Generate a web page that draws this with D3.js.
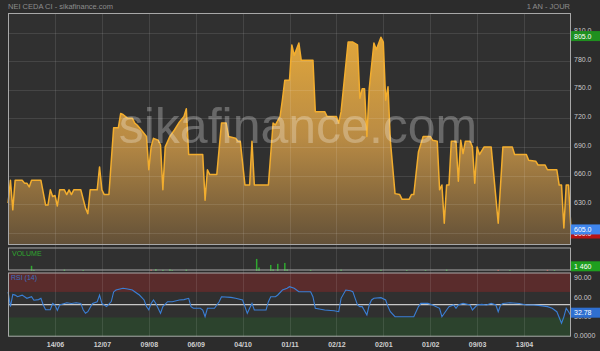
<!DOCTYPE html>
<html><head><meta charset="utf-8">
<script src="https://cdn.jsdelivr.net/npm/d3@7"></script>
<style>html,body{margin:0;padding:0;background:#2c2c2c;overflow:hidden}svg{display:block;font-family:"Liberation Sans",Arial,sans-serif}</style>
</head><body><svg id="c" width="600" height="351"></svg>
<script>
// ---- data (trading-day index / value) ----
const priceDays = [0,1,2,3,6,7,8,9,10,14,16,17,18,19,20,21,22,24,25,26,27,28,31,33,34,35,38,39,40,41,43,45,47,48,49,51,53,54,55,56,58,59,60,61,62,64,65,66,67,69,71,73,75,76,77,83,84,85,86,89,91,93,94,97,98,99,101,103,104,105,111,113,114,116,117,118,120,121,122,124,125,130,131,135,136,140,141,142,145,147,149,150,151,152,153,154,156,157,159,160,161,162,163,165,167,168,171,172,173,175,177,180,181,183,184,185,186,187,188,189,191,192,193,194,195,197,198,199,200,201,203,206,209,211,215,216,221,222,225,226,229,230,234,235,236,237,238,239,240];
const priceVals = [631,655,624,655,655,652,652,648,655,655,629,629,645,638,639,628,645,645,640,645,640,645,645,626,620,645,645,669,645,640,640,710,710,725,724,720,720,715,713,710,704,701,666,690,699,697,692,645,690,701,708,716,722,730,682,682,634,666,661,661,715,715,701,699,696,696,650,650,696,650,650,715,713,722,740,760,760,797,786,799,781,781,727,727,722,722,715,727,800,800,797,741,751,751,701,751,799,792,805,800,739,753,697,641,640,635,635,640,640,685,701,701,697,696,645,650,610,650,650,696,696,654,697,683,696,696,690,652,690,682,690,690,610,690,690,682,682,676,675,671,671,666,666,650,650,605,650,650,605];
const volDays = [10,11,24,32,61,63,66,69,70,76,106,107,112,113,115,118,119,129,142,159,170,178,187,209,214,230,233,240];
const volVals = [1800,400,500,300,500,700,400,600,300,500,4200,1200,2100,600,2500,2800,600,400,500,400,300,300,500,400,300,400,300,1460];
const volDownDays = [61,209,230];
const rsiDays = [0,1,2,3,4,6,8,10,11,13,14,15,16,18,19,20,21,22,25,27,29,31,32,33,34,36,38,39,40,41,42,44,45,46,49,51,53,54,56,58,59,60,61,62,63,65,66,68,70,73,75,77,78,79,82,83,84,85,88,90,91,95,97,100,101,102,103,104,105,110,111,112,114,115,117,119,120,122,123,124,129,130,131,135,139,141,142,144,146,147,148,149,150,151,153,154,155,156,159,161,162,163,165,173,175,176,179,181,184,185,187,188,190,191,192,194,197,198,200,202,204,206,208,209,210,211,214,218,221,224,227,230,232,234,236,237,238,239,240];
const rsiVals = [70,47,66,65,62.5,65,60,62.5,57,58,60,49.5,42,42,52,49.5,41,49.5,53,52,53,52,42,36.5,39,52,54.7,65,52,49.5,47,55,70,73,75.7,74.5,73,70.4,65.2,57.4,47,42,52,57.4,52,36.5,47,54.7,54.7,57.4,58,60,47,44.4,44.4,41.7,31.2,44.4,44.4,54.7,62.5,61.5,60,57.4,47,36.5,44.4,52,41.7,41.7,54.7,62.5,62.5,65.2,73,75.7,78.2,75.7,73,70.4,70.4,62.5,44.4,41.7,40.5,39,60,73,72,70.4,60,49.5,47,47,34,49.5,57.4,60,61,57.4,47,39,31.2,31.2,47,52,52,49.5,44.4,31.2,41.7,47,49.5,44.4,49.5,52,49.5,41.7,49.5,50.5,49.5,52,49.5,39,49.5,52,53,52,49.5,49.5,48.5,47,44.4,39,21,31,44.4,39,32.78];
const dateTickDays = [20,40,60,80,100,120,140,160,180,200,220];
const dateTickLabels = ["14/06","12/07","09/08","06/09","04/10","01/11","02/12","02/01","01/02","09/03","13/04"];
const priceTicks = [600,630,660,690,720,750,780,810];
const rsiTicks = [0,30,60,90];
const rsiTickLabels = ["0.0000","30.00","60.00","90.00"];
const highVal = 805, lastVal = 605, lowVal = 600, lastVol = 1460, lastRsi = 32.78;
const title = "NEI CEDA CI - sikafinance.com", period = "1 AN - JOUR", watermark = "sikafinance.com";

// ---- layout ----
const svg = d3.select('#c');
const L = 8, R = 571;
const main = {top: 13, bottom: 245}, vol = {top: 247.5, bottom: 270.5}, rp = {top: 272.5, bottom: 336.7};
const x = d3.scaleLinear().domain([0, 240]).range([8.1, 570.9]);
const yP = d3.scaleLinear().domain([600, 810]).range([232.7, 32.5]);
const yV = d3.scaleLinear().domain([0, 8000]).range([271, 248]);
const yR = d3.scaleLinear().domain([0, 100]).range([336.6, 272.8]);

svg.append('rect').attr('width', 600).attr('height', 351).attr('fill', '#2c2c2c');
[main, vol, rp].forEach(p => svg.append('rect').attr('x', L).attr('y', p.top).attr('width', R - L).attr('height', p.bottom - p.top).attr('fill', '#303030'));

// RSI bands
svg.append('rect').attr('x', L).attr('y', yR(100)).attr('width', R - L).attr('height', yR(70) - yR(100)).attr('fill', '#5a2c2c');
svg.append('rect').attr('x', L).attr('y', yR(30)).attr('width', R - L).attr('height', yR(0) - yR(30)).attr('fill', '#2c432d');

// gradient
const defs = svg.append('defs');
const g = defs.append('linearGradient').attr('id', 'ga').attr('gradientUnits', 'userSpaceOnUse').attr('x1', 0).attr('y1', 30).attr('x2', 0).attr('y2', 245);
g.append('stop').attr('offset', 0).attr('stop-color', '#e3a83b');
g.append('stop').attr('offset', 0.5).attr('stop-color', '#b98b44');
g.append('stop').attr('offset', 1).attr('stop-color', '#625038');

const pts = d3.zip(priceDays, priceVals);
svg.append('path').datum(pts).attr('fill', 'url(#ga)')
  .attr('d', d3.area().x(d => x(d[0])).y0(main.bottom).y1(d => yP(d[1])));

// grid
const gridC = 'rgba(255,255,255,0.1)';
const grid = svg.append('g');
dateTickDays.forEach(d => {
  grid.append('line').attr('x1', Math.round(x(d)) + 0.5).attr('x2', Math.round(x(d)) + 0.5).attr('y1', main.top).attr('y2', rp.bottom).attr('stroke', gridC);
});
priceTicks.forEach(v => {
  grid.append('line').attr('x1', L).attr('x2', R).attr('y1', Math.round(yP(v)) + 0.5).attr('y2', Math.round(yP(v)) + 0.5).attr('stroke', gridC);
});

svg.append('path').datum(pts).attr('fill', 'none').attr('stroke', '#f2ad2e').attr('stroke-width', 1.5).attr('stroke-linejoin', 'round')
  .attr('d', d3.line().x(d => x(d[0])).y(d => yP(d[1])));

// watermark
svg.append('text').attr('x', 298).attr('y', 143).attr('text-anchor', 'middle').attr('font-size', 50)
  .attr('fill', 'rgba(255,255,255,0.27)').text(watermark);

// volume bars
const vb = d3.zip(volDays, volVals);
svg.append('g').selectAll('rect').data(vb).join('rect')
  .attr('x', d => x(d[0]) - 0.75).attr('width', 1.5)
  .attr('y', d => yV(d[1])).attr('height', d => yV(0) - yV(d[1]))
  .attr('fill', d => volDownDays.includes(d[0]) ? '#c0392b' : '#2fa82f');
svg.append('text').attr('x', 12).attr('y', 256).attr('font-size', 7).attr('fill', '#2fa82f').text('VOLUME');

// RSI
svg.append('line').attr('x1', L).attr('x2', R).attr('y1', yR(50)).attr('y2', yR(50)).attr('stroke', '#c8c8c8').attr('stroke-width', 1.2);
svg.append('path').datum(d3.zip(rsiDays, rsiVals)).attr('fill', 'none').attr('stroke', '#3a7fd6').attr('stroke-width', 1.1)
  .attr('d', d3.line().x(d => x(d[0])).y(d => yR(d[1])));
svg.append('text').attr('x', 11).attr('y', 280).attr('font-size', 7).attr('fill', '#3a6fc0').text('RSI (14)');

// panel borders
[main, vol, rp].forEach(p => svg.append('rect').attr('x', L + 0.5).attr('y', p.top + 0.5).attr('width', R - L - 1).attr('height', p.bottom - p.top - 1)
  .attr('fill', 'none').attr('stroke', '#a8a8a8').attr('stroke-width', 1));

// axes
const styleAxis = (sel, size, col, weight) => {
  sel.select('.domain').remove();
  sel.selectAll('line').remove();
  sel.selectAll('text').attr('font-size', size).attr('fill', col).attr('font-family', '"Liberation Sans",Arial,sans-serif').attr('font-weight', weight || 'normal');
};
svg.append('g').attr('transform', `translate(${R + 1},-2)`)
  .call(d3.axisRight(yP).tickValues(priceTicks.filter(v => v !== 600)).tickSize(0).tickPadding(2).tickFormat(d3.format('.1f')))
  .call(s => styleAxis(s, 7, '#c8c8c8'));
svg.append('g').attr('transform', `translate(${R + 1},-1.5)`)
  .call(d3.axisRight(yR).tickValues(rsiTicks).tickSize(0).tickPadding(2).tickFormat((d, i) => rsiTickLabels[i]))
  .call(s => styleAxis(s, 7, '#c8c8c8'));
svg.append('g').attr('transform', `translate(0,${rp.bottom + 2})`)
  .call(d3.axisBottom(x).tickValues(dateTickDays).tickSize(0).tickPadding(3).tickFormat((d, i) => dateTickLabels[i]))
  .call(s => styleAxis(s, 7, '#cfcfcf', 'bold'));

// value boxes
function box(yc, col, label, tcol) {
  svg.append('rect').attr('x', R).attr('y', yc - 5).attr('width', 600 - R).attr('height', 10).attr('fill', col);
  svg.append('text').attr('x', R + 3).attr('y', yc + 2.5).attr('font-size', 7).attr('fill', tcol || '#ffffff').text(label);
}
box(yP(lowVal) + 0.8, '#b81414', d3.format('.1f')(lowVal));
box(yP(lastVal) + 1.5, '#3f86ee', d3.format('.1f')(lastVal));
box(yP(highVal) - 1.2, '#1f8f1f', d3.format('.1f')(highVal));
box(yV(lastVol) - 0.5, '#1f9f1f', d3.format(',')(lastVol).replace(',', ' '));
box(yR(lastRsi) - 3, '#2f6fd0', d3.format('.2f')(lastRsi));

// titles
svg.append('text').attr('x', 8).attr('y', 8.5).attr('font-size', 7.5).attr('fill', '#8c8c8c').text(title);
svg.append('text').attr('x', 570).attr('y', 8.5).attr('text-anchor', 'end').attr('font-size', 7.5).attr('fill', '#8c8c8c').text(period);
</script></body></html>
